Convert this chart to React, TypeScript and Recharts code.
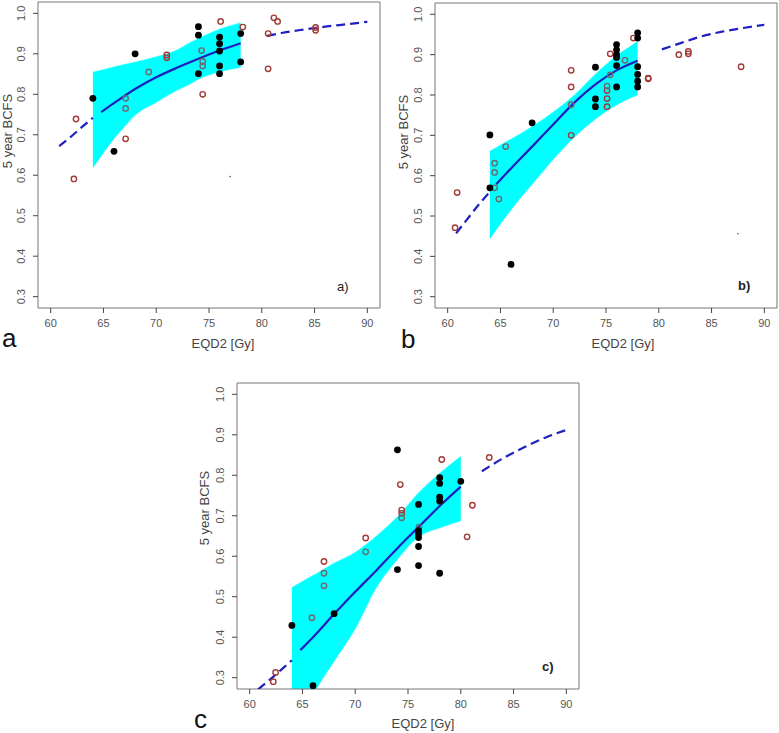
import React from "react";
import { ComposedChart, XAxis, YAxis, Area, Line, Scatter, ReferenceArea } from "recharts";

const xTicks = [60, 65, 70, 75, 80, 85, 90];
const yTicks = [0.3, 0.4, 0.5, 0.6, 0.7, 0.8, 0.9, 1.0];
const xDomain = [58.8, 91.2];
const yDomain = [0.272, 1.028];

// panel a
const aBandX = [64, 65, 66, 67, 68, 70, 72, 73.2, 74, 76, 78];
const aBandLo = [0.618, 0.655, 0.69, 0.72, 0.748, 0.78, 0.81, 0.825, 0.837, 0.855, 0.866];
const aBandHi = [0.855, 0.861, 0.868, 0.874, 0.88, 0.893, 0.91, 0.928, 0.938, 0.961, 0.977];
const aFitX = [64.8, 66, 68, 70, 72, 74, 76, 78];
const aFitY = [0.756, 0.778, 0.813, 0.842, 0.866, 0.888, 0.908, 0.926];
const aDashLoX = [60.8, 62, 63, 64];
const aDashLoY = [0.672, 0.697, 0.72, 0.742];
const aDashHiX = [80.5, 82, 84, 86, 88, 90];
const aDashHiY = [0.944, 0.952, 0.96, 0.967, 0.973, 0.979];
const aBlackX = [64, 66, 68, 74, 74, 74, 76, 76, 76, 76, 76, 78, 78];
const aBlackY = [0.79, 0.659, 0.9, 0.967, 0.946, 0.851, 0.941, 0.925, 0.907, 0.87, 0.851, 0.95, 0.88];
const aRedX = [62.2, 62.4, 67.1, 71, 71, 74.4, 76.1, 78.2, 80.6, 80.6, 81.15, 81.5, 85.1, 85.1];
const aRedY = [0.591, 0.739, 0.69, 0.897, 0.89, 0.8, 0.98, 0.966, 0.95, 0.863, 0.989, 0.98, 0.965, 0.958];
const aGrayX = [67.1, 67.1, 69.3, 74.3, 74.4, 74.4];
const aGrayY = [0.79, 0.765, 0.855, 0.908, 0.881, 0.87];
const aStrayX = [77];
const aStrayY = [0.597];

// panel b
const bBandX = [64, 65, 66, 67, 68, 70, 72, 74, 76, 78];
const bBandLo = [0.443, 0.48, 0.515, 0.548, 0.578, 0.64, 0.695, 0.74, 0.775, 0.8];
const bBandHi = [0.661, 0.676, 0.691, 0.706, 0.722, 0.758, 0.8, 0.852, 0.897, 0.933];
const bFitX = [64.6, 66, 68, 70, 72, 74, 76, 78];
const bFitY = [0.579, 0.618, 0.672, 0.727, 0.781, 0.826, 0.861, 0.885];
const bDashLoX = [60.8, 62, 63, 64];
const bDashLoY = [0.457, 0.497, 0.53, 0.56];
const bDashHiX = [80.3, 82, 84, 86, 88, 90];
const bDashHiY = [0.913, 0.928, 0.945, 0.957, 0.966, 0.974];
const bBlackX = [64, 64, 66, 68, 74, 74, 74, 76, 76, 76, 76, 76, 76, 78, 78, 78, 78, 78, 78];
const bBlackY = [0.701, 0.57, 0.38, 0.731, 0.869, 0.79, 0.771, 0.925, 0.912, 0.9, 0.893, 0.873, 0.82, 0.954, 0.941, 0.87, 0.851, 0.834, 0.82];
const bRedX = [60.7, 60.9, 71.7, 71.7, 71.7, 75.1, 75.1, 75.1, 75.4, 77.6, 79, 79, 81.9, 82.8, 82.8, 87.8];
const bRedY = [0.471, 0.558, 0.861, 0.82, 0.7, 0.811, 0.791, 0.771, 0.902, 0.941, 0.842, 0.84, 0.9, 0.908, 0.902, 0.87];
const bGrayX = [64.45, 64.45, 64.45, 64.85, 65.5, 71.7, 75.1, 75.4, 76.8];
const bGrayY = [0.631, 0.608, 0.57, 0.542, 0.672, 0.776, 0.822, 0.85, 0.886];
const bStrayX = [87.5];
const bStrayY = [0.456];

// panel c
const cBandX = [64, 65, 66, 66.3, 68, 70, 72, 74, 76, 78, 80];
const cBandLo = [0.14, 0.2, 0.255, 0.27, 0.34, 0.42, 0.522, 0.592, 0.648, 0.67, 0.687];
const cBandHi = [0.523, 0.538, 0.553, 0.557, 0.583, 0.61, 0.65, 0.698, 0.757, 0.805, 0.847];
const cFitX = [64.8, 66, 68, 70, 72, 74, 76, 78, 80];
const cFitY = [0.368, 0.4, 0.457, 0.512, 0.565, 0.62, 0.672, 0.724, 0.772];
const cDashLoX = [60.8, 62, 63, 64];
const cDashLoY = [0.271, 0.297, 0.32, 0.343];
const cDashHiX = [82, 84, 86, 88, 90];
const cDashHiY = [0.81, 0.842, 0.869, 0.893, 0.912];
const cBlackX = [64, 66, 68, 74, 74, 76, 76, 76, 76, 76, 76, 78, 78, 78, 78, 78, 80];
const cBlackY = [0.429, 0.28, 0.458, 0.863, 0.567, 0.728, 0.663, 0.655, 0.646, 0.624, 0.577, 0.794, 0.78, 0.746, 0.736, 0.558, 0.785];
const cRedX = [62.24, 62.46, 67.04, 70.99, 74.27, 74.4, 74.4, 78.2, 80.6, 81.1, 82.7];
const cRedY = [0.29, 0.313, 0.587, 0.645, 0.777, 0.714, 0.706, 0.839, 0.648, 0.726, 0.844];
const cGrayX = [65.9, 67.04, 67.04, 70.99, 74.4, 76.04];
const cGrayY = [0.448, 0.558, 0.527, 0.611, 0.695, 0.672];

const rows = (xs: number[], ys: number[]) => xs.map((x, i) => ({ x, y: ys[i] }));
const bandRows = (xs: number[], lo: number[], hi: number[]) =>
  xs.map((x, i) => ({ x, band: [lo[i], hi[i]] }));

const BLUE = "#1f1fc2";

const RedRing = (p: any) => (
  <circle cx={p.cx} cy={p.cy} r={2.7} fill="none" stroke="#a23b36" strokeWidth={1.4} />
);
const GrayRing = (p: any) => (
  <circle cx={p.cx} cy={p.cy} r={2.7} fill="none" stroke="#6b6b6b" strokeWidth={1.4} />
);
const BlackDot = (p: any) => <circle cx={p.cx} cy={p.cy} r={3.4} fill="#000" />;
const StrayDot = (p: any) => <circle cx={p.cx} cy={p.cy} r={0.7} fill="#333" />;

const YTick = (p: any) => (
  <text
    x={p.x}
    y={p.y}
    transform={`rotate(-90 ${p.x} ${p.y})`}
    textAnchor="middle"
    fontSize={11}
    fill="#555"
  >
    {Number(p.payload.value).toFixed(1)}
  </text>
);

function Panel(props: any) {
  const { left, top, width, height, margin, yWidth, xHeight, d } = props;
  return (
    <div style={{ position: "absolute", left, top }}>
      <ComposedChart width={width} height={height} margin={margin}>
        <XAxis
          dataKey="x"
          type="number"
          domain={xDomain}
          ticks={xTicks}
          allowDataOverflow
          axisLine={false}
          tickLine={{ stroke: "#444" }}
          tickSize={5}
          tickMargin={6}
          tick={{ fontSize: 11, fill: "#555" }}
          height={xHeight}
        />
        <YAxis
          type="number"
          domain={yDomain}
          ticks={yTicks}
          allowDataOverflow
          axisLine={false}
          tickLine={{ stroke: "#444" }}
          tickSize={5}
          tickMargin={8}
          tick={<YTick />}
          width={yWidth}
        />
        <Area
          data={bandRows(d.bandX, d.bandLo, d.bandHi)}
          dataKey="band"
          type="monotone"
          fill="#00ffff"
          fillOpacity={1}
          stroke="#5ff"
          strokeWidth={0.5}
          isAnimationActive={false}
        />
        <Line data={rows(d.dashLoX, d.dashLoY)} dataKey="y" type="monotone" stroke={BLUE} strokeWidth={2.2} strokeDasharray="9 5" dot={false} isAnimationActive={false} />
        <Line data={rows(d.dashHiX, d.dashHiY)} dataKey="y" type="monotone" stroke={BLUE} strokeWidth={2.2} strokeDasharray="9 5" dot={false} isAnimationActive={false} />
        <Line data={rows(d.fitX, d.fitY)} dataKey="y" type="monotone" stroke={BLUE} strokeWidth={2.2} dot={false} isAnimationActive={false} />
        <Scatter data={rows(d.redX, d.redY)} dataKey="y" shape={RedRing} isAnimationActive={false} />
        <Scatter data={rows(d.grayX, d.grayY)} dataKey="y" shape={GrayRing} isAnimationActive={false} />
        <Scatter data={rows(d.blackX, d.blackY)} dataKey="y" shape={BlackDot} isAnimationActive={false} />
        <Scatter data={rows(d.strayX, d.strayY)} dataKey="y" shape={StrayDot} isAnimationActive={false} />
        <ReferenceArea
          x1={xDomain[0]}
          x2={xDomain[1]}
          y1={yDomain[0]}
          y2={yDomain[1]}
          fill="none"
          fillOpacity={0}
          stroke="#777"
          strokeWidth={1}
          ifOverflow="visible"
        />
      </ComposedChart>
    </div>
  );
}

const panelA = {
  bandX: aBandX, bandLo: aBandLo, bandHi: aBandHi, fitX: aFitX, fitY: aFitY,
  dashLoX: aDashLoX, dashLoY: aDashLoY, dashHiX: aDashHiX, dashHiY: aDashHiY,
  blackX: aBlackX, blackY: aBlackY, redX: aRedX, redY: aRedY, grayX: aGrayX, grayY: aGrayY,
  strayX: aStrayX, strayY: aStrayY,
};
const panelB = {
  bandX: bBandX, bandLo: bBandLo, bandHi: bBandHi, fitX: bFitX, fitY: bFitY,
  dashLoX: bDashLoX, dashLoY: bDashLoY, dashHiX: bDashHiX, dashHiY: bDashHiY,
  blackX: bBlackX, blackY: bBlackY, redX: bRedX, redY: bRedY, grayX: bGrayX, grayY: bGrayY,
  strayX: bStrayX, strayY: bStrayY,
};
const panelC = {
  bandX: cBandX, bandLo: cBandLo, bandHi: cBandHi, fitX: cFitX, fitY: cFitY,
  dashLoX: cDashLoX, dashLoY: cDashLoY, dashHiX: cDashHiX, dashHiY: cDashHiY,
  blackX: cBlackX, blackY: cBlackY, redX: cRedX, redY: cRedY, grayX: cGrayX, grayY: cGrayY,
  strayX: [], strayY: [],
};

const yTitle = "5 year BCFS";
const xTitle = "EQD2 [Gy]";

export default function App() {
  return (
    <div
      style={{
        position: "absolute",
        left: 0,
        top: 0,
        width: 779,
        height: 733,
        background: "#fff",
        fontFamily: "'Liberation Sans', Arial, sans-serif",
      }}
    >
      <Panel left={0} top={0} width={390} height={360} margin={{ top: 2, right: 10, bottom: 0, left: 0 }} yWidth={38} xHeight={52} d={panelA} />
      <Panel left={390} top={0} width={389} height={360} margin={{ top: 3, right: 2, bottom: 0, left: 0 }} yWidth={45} xHeight={52} d={panelB} />
      <Panel left={190} top={370} width={400} height={363} margin={{ top: 13, right: 11, bottom: 0, left: 0 }} yWidth={47} xHeight={44} d={panelC} />
      <svg width={779} height={733} style={{ position: "absolute", left: 0, top: 0, pointerEvents: "none" }}>
        <g fill="#444" fontSize={13}>
          <text x={12} y={131} transform="rotate(-90 12 131)" textAnchor="middle">{yTitle}</text>
          <text x={408} y={132} transform="rotate(-90 408 132)" textAnchor="middle">{yTitle}</text>
          <text x={209} y={508} transform="rotate(-90 209 508)" textAnchor="middle">{yTitle}</text>
          <text x={223} y={348} textAnchor="middle">{xTitle}</text>
          <text x={623} y={348} textAnchor="middle">{xTitle}</text>
          <text x={423} y={728} textAnchor="middle">{xTitle}</text>
        </g>
        <g fill="#111" fontSize={26}>
          <text x={2} y={347}>a</text>
          <text x={401} y={348}>b</text>
          <text x={194} y={728}>c</text>
        </g>
        <g fill="#222" fontSize={13}>
          <text x={337} y={291}>a)</text>
          <text x={738} y={290} fontWeight="bold">b)</text>
          <text x={542} y={671} fontWeight="bold">c)</text>
        </g>
      </svg>
    </div>
  );
}
